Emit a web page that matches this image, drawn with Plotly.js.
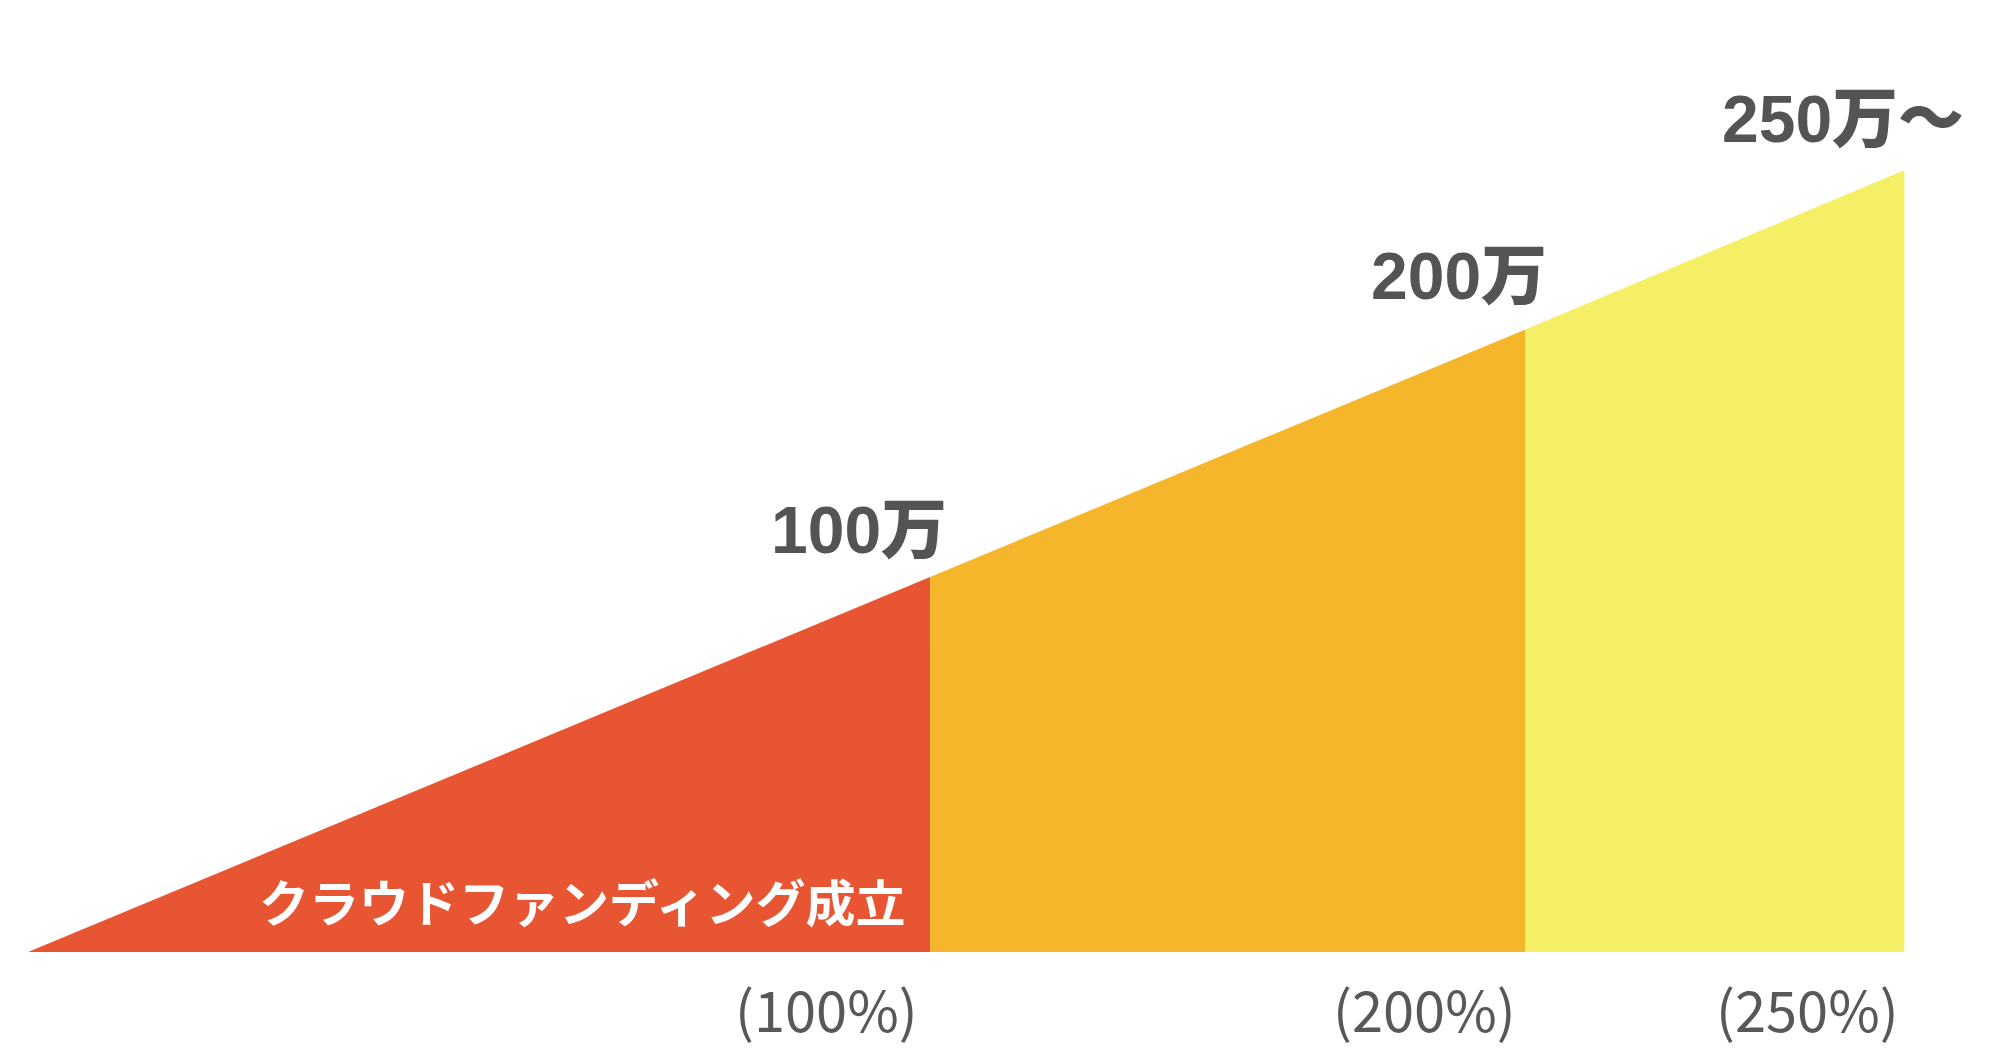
<!DOCTYPE html>
<html>
<head>
<meta charset="utf-8">
<script src="https://cdn.plot.ly/plotly-3.0.1.min.js"></script>
<style>
  html, body { margin: 0; padding: 0; background: #ffffff; }
  #chart { width: 2009px; height: 1064px; }
</style>
</head>
<body>
<div id="chart"></div>
<script>
// ---- data (schematic stair-step funding goal chart) ----
const tiers = ['100%', '200%', '250%'];
const xBreaks = [0, 100, 166, 208];      // horizontal position of each tier boundary
const yBreaks = [0, 100, 166, 208.5];    // height of the rising line at each boundary
const amountLabels = ['100万', '200万', '250万～'];
const pctLabels = ['(100%)', '(200%)', '(250%)'];
const baseLabel = 'クラウドファンディング成立';
const tierColors = ['#E85532', '#F5B62C', '#F5EF66'];

// ---- build polygons ----
const traces = tiers.map((t, i) => {
  const x0 = xBreaks[i], x1 = xBreaks[i + 1];
  const y0 = yBreaks[i], y1 = yBreaks[i + 1];
  return {
    type: 'scatter',
    mode: 'lines',
    x: [x0, x0, x1, x1, x0],
    y: [0, y0, y1, 0, 0],
    fill: 'toself',
    fillcolor: tierColors[i],
    line: { width: 0, color: tierColors[i] },
    hoverinfo: 'skip',
    showlegend: false,
    name: t
  };
});

// label positions in data space
const amountPos = [[92.1, 112.5], [158.6, 180.3], [201.2, 222.1]];
const pctPos = [[88.5, -14.7], [154.8, -14.7], [197.3, -14.7]];

const annotations = [];
amountLabels.forEach((s, i) => {
  annotations.push({
    x: amountPos[i][0], y: amountPos[i][1], xref: 'x', yref: 'y',
    text: s, showarrow: false,
    xanchor: 'center', yanchor: 'middle',
    font: { family: '"Liberation Sans", "Noto Sans CJK JP", sans-serif', size: 66, weight: 900, color: '#555353' }
  });
});
pctLabels.forEach((s, i) => {
  annotations.push({
    x: pctPos[i][0], y: pctPos[i][1], xref: 'x', yref: 'y',
    text: s, showarrow: false,
    xanchor: 'center', yanchor: 'middle',
    font: { family: '"Noto Sans CJK JP", "Noto Sans", sans-serif', size: 56, color: '#595757' }
  });
});
annotations.push({
  x: 61.5, y: 13.9, xref: 'x', yref: 'y',
  text: baseLabel, showarrow: false,
  xanchor: 'center', yanchor: 'middle',
  font: { family: '"Noto Sans CJK JP", sans-serif', size: 50, weight: 700, color: '#ffffff' }
});

const layout = {
  width: 2009, height: 1064,
  margin: { l: 0, r: 0, t: 0, b: 0 },
  paper_bgcolor: '#ffffff', plot_bgcolor: '#ffffff',
  xaxis: { range: [-3.104, 219.6], visible: false, fixedrange: true },
  yaxis: { range: [-29.87, 253.87], visible: false, fixedrange: true },
  annotations: annotations,
  showlegend: false
};

Plotly.newPlot('chart', traces, layout, { displayModeBar: false, staticPlot: true });
</script>
</body>
</html>
